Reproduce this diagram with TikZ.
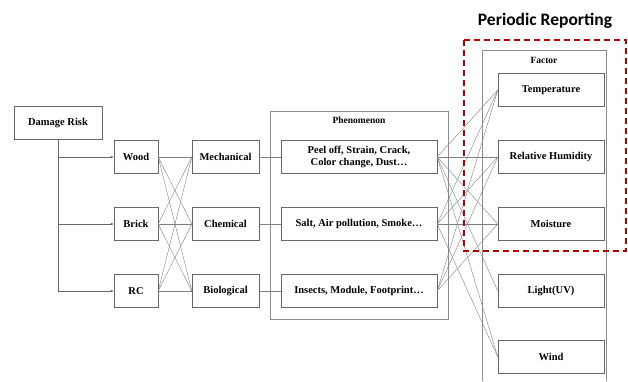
\documentclass[tikz,border=0pt]{standalone}
\usepackage{fontspec}
\setmainfont{Liberation Serif}
\newfontfamily\headfont{Carlito}
\usepackage{xcolor}
\usetikzlibrary{positioning,arrows.meta}

\begin{document}
\begin{tikzpicture}[
  x=1pt, y=-1pt,
  bx/.style={draw=black!60,minimum height=33pt,inner sep=1pt,align=center,font=\bfseries\fontsize{10.5}{12}\selectfont},
  frame/.style={draw=black!45},
  ttl/.style={font=\bfseries\fontsize{9.5}{11}\selectfont,inner sep=1pt},
  ln/.style={draw=black!50,line width=0.4pt},
  arr/.style={-{Latex[length=3pt,width=2.5pt]},draw=black!60,line width=0.5pt},
  rep/.style={draw=red!70!black,line width=1.6pt,dash pattern=on 6pt off 4pt},
]
\useasboundingbox (0,0) rectangle (628,381);

% title
\node[font=\headfont\bfseries\fontsize{17.5}{20}\selectfont] (head) at (545,21) {Periodic Reporting};

% containers
\node[frame,minimum width=178pt,minimum height=208pt] (phen) at (359,215) {};
\node[ttl,below=5pt of phen.north] (phenlbl) {Phenomenon};
\draw[frame] (482,381) -- (482,50) -- (606,50) -- (606,381);
\node[ttl] (faclbl) at (544,60) {Factor};

% damage risk and materials
\node[bx,minimum width=88pt] (dr) at (58,123) {Damage Risk};
\node[bx,minimum width=44pt] (wood)  at (136,157) {Wood};
\node[bx,minimum width=44pt] (brick) at (136,224) {Brick};
\node[bx,minimum width=44pt] (rc)    at (136,291) {RC};

% damage types
\node[bx,minimum width=67pt] (mech) at (225.5,157) {Mechanical};
\node[bx,minimum width=67pt] (chem) at (225.5,224) {Chemical};
\node[bx,minimum width=67pt] (bio)  at (225.5,291) {Biological};

% phenomena
\node[bx,minimum width=156pt] (ph1) at (359,157) {Peel off, Strain, Crack,\\Color change, Dust\dots};
\node[bx,minimum width=156pt] (ph2) at (359,224) {Salt, Air pollution, Smoke\dots};
\node[bx,minimum width=156pt] (ph3) at (359,291) {Insects, Module, Footprint\dots};

% factors
\node[bx,minimum width=106pt] (temp)  at (551,90)  {Temperature};
\node[bx,minimum width=106pt] (rh)    at (551,157) {Relative Humidity};
\node[bx,minimum width=106pt] (moist) at (551,224) {Moisture};
\node[bx,minimum width=106pt] (light) at (551,291) {Light(UV)};
\node[bx,minimum width=106pt] (wind)  at (551,357) {Wind};

% connectors
\foreach \m in {wood,brick,rc}
  \draw[arr] (dr.south) |- (\m.west);
\foreach \m in {wood,brick,rc}
  \foreach \t in {mech,chem,bio}
    \draw[ln] (\m.east) -- (\t.west);
\draw[ln] (mech) -- (ph1);
\draw[ln] (chem) -- (ph2);
\draw[ln] (bio) -- (ph3);
\foreach \p/\f in {ph1/temp,ph1/rh,ph1/moist,ph1/light,ph1/wind,
                   ph2/temp,ph2/rh,ph2/moist,ph2/wind,
                   ph3/temp,ph3/rh,ph3/moist}
  \draw[ln] (\p.east) -- (\f.west);

% periodic reporting
\draw[rep] (464,40) rectangle (626,251);
\end{tikzpicture}
\end{document}
